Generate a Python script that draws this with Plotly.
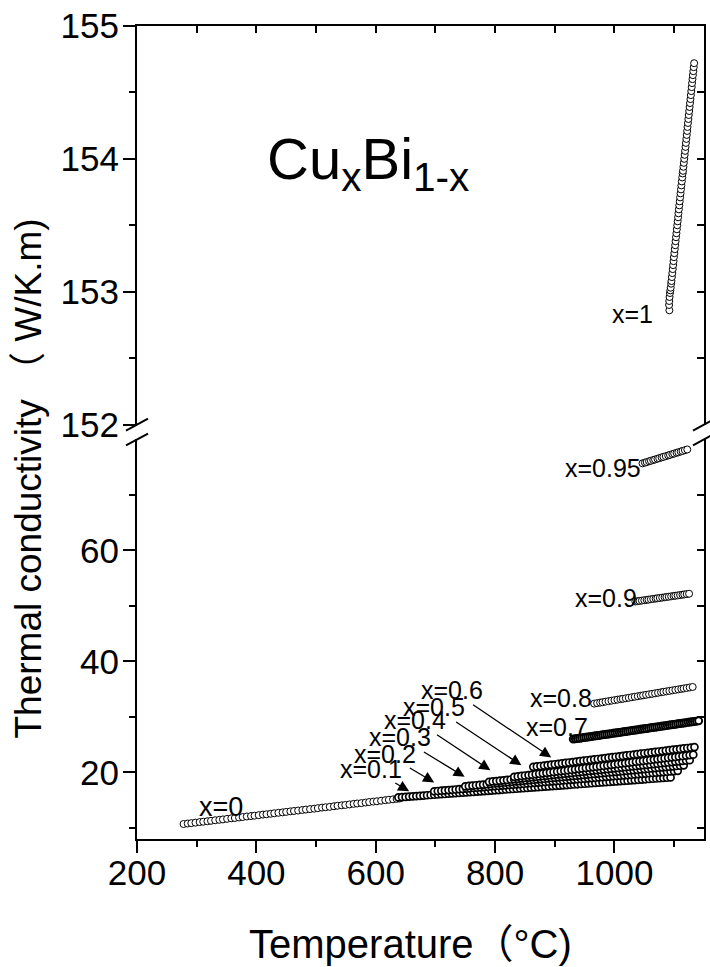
import plotly.graph_objects as go

# ---------------- data ----------------
T_x0 = [278, 285, 291, 298, 305, 311, 318, 324, 331, 338, 344, 351, 358, 364, 371, 377, 384, 391, 397, 404,
        411, 417, 424, 430, 437, 444, 450, 457, 463, 470, 477, 483, 490, 497, 503, 510, 516, 523, 530, 536,
        543, 549, 556, 563, 569, 576, 583, 589, 596, 602, 609, 616, 622, 629, 635, 640]
K_x0 = [10.70, 10.79, 10.86, 10.95, 11.05, 11.12, 11.20, 11.28, 11.38, 11.46, 11.53, 11.63, 11.73, 11.79, 11.87, 11.96, 12.06, 12.14, 12.20, 12.30,
        12.40, 12.46, 12.55, 12.64, 12.72, 12.80, 12.88, 12.98, 13.05, 13.13, 13.23, 13.31, 13.39, 13.47, 13.56, 13.66, 13.72, 13.80, 13.90, 13.99,
        14.07, 14.13, 14.23, 14.33, 14.40, 14.47, 14.57, 14.66, 14.74, 14.80, 14.90, 15.00, 15.07, 15.15, 15.23, 15.30]

T_x01 = [638, 644, 650, 656, 662, 668, 674, 680, 686, 692, 698, 704, 710, 716, 722, 728, 734, 740, 746, 752,
         758, 764, 770, 776, 782, 788, 794, 800, 806, 812, 818, 824, 830, 836, 842, 848, 854, 860, 866, 872,
         878, 884, 890, 896, 902, 908, 914, 920, 926, 932, 938, 944, 950, 956, 962, 968, 974, 980, 986, 992,
         998, 1004, 1010, 1016, 1022, 1028, 1034, 1040, 1046, 1052, 1058, 1064, 1070, 1076, 1082, 1088, 1094]
K_x01 = [15.50, 15.55, 15.59, 15.64, 15.69, 15.74, 15.78, 15.83, 15.88, 15.93, 15.97, 16.02, 16.07, 16.11, 16.16, 16.21, 16.26, 16.30, 16.35, 16.40,
         16.45, 16.49, 16.54, 16.59, 16.63, 16.68, 16.73, 16.78, 16.82, 16.87, 16.92, 16.97, 17.01, 17.06, 17.11, 17.15, 17.20, 17.25, 17.30, 17.34,
         17.39, 17.44, 17.48, 17.53, 17.58, 17.63, 17.67, 17.72, 17.77, 17.82, 17.86, 17.91, 17.96, 18.00, 18.05, 18.10, 18.15, 18.19, 18.24, 18.29,
         18.34, 18.38, 18.43, 18.48, 18.52, 18.57, 18.62, 18.67, 18.71, 18.76, 18.81, 18.86, 18.90, 18.95, 19.00, 19.04, 19.09]

T_x02 = [698, 704, 710, 716, 722, 728, 734, 740, 746, 752, 758, 764, 770, 776, 782, 788, 794, 800, 806, 812,
         818, 824, 830, 836, 842, 848, 854, 860, 866, 872, 878, 884, 890, 896, 902, 908, 914, 920, 926, 932,
         938, 944, 950, 956, 962, 968, 974, 980, 986, 992, 998, 1004, 1010, 1016, 1022, 1028, 1034, 1040, 1046, 1052,
         1058, 1064, 1070, 1076, 1082, 1088, 1094, 1100, 1106]
K_x02 = [16.60, 16.65, 16.71, 16.76, 16.82, 16.87, 16.92, 16.98, 17.03, 17.09, 17.14, 17.20, 17.25, 17.30, 17.36, 17.41, 17.47, 17.52, 17.57, 17.63,
         17.68, 17.74, 17.79, 17.85, 17.90, 17.95, 18.01, 18.06, 18.12, 18.17, 18.22, 18.28, 18.33, 18.39, 18.44, 18.49, 18.55, 18.60, 18.66, 18.71,
         18.77, 18.82, 18.87, 18.93, 18.98, 19.04, 19.09, 19.14, 19.20, 19.25, 19.31, 19.36, 19.42, 19.47, 19.52, 19.58, 19.63, 19.69, 19.74, 19.79,
         19.85, 19.90, 19.96, 20.01, 20.06, 20.12, 20.17, 20.23, 20.28]

T_x03 = [750, 756, 762, 768, 774, 780, 786, 792, 798, 804, 810, 816, 822, 828, 834, 840, 846, 852, 858, 864,
         870, 876, 882, 888, 894, 900, 906, 912, 918, 924, 930, 936, 942, 948, 954, 960, 966, 972, 978, 984,
         990, 996, 1002, 1008, 1014, 1020, 1026, 1032, 1038, 1044, 1050, 1056, 1062, 1068, 1074, 1080, 1086, 1092, 1098, 1104,
         1110, 1116]
K_x03 = [17.50, 17.56, 17.62, 17.69, 17.75, 17.81, 17.87, 17.93, 18.00, 18.06, 18.12, 18.18, 18.24, 18.31, 18.37, 18.43, 18.49, 18.55, 18.62, 18.68,
         18.74, 18.80, 18.86, 18.93, 18.99, 19.05, 19.11, 19.17, 19.23, 19.30, 19.36, 19.42, 19.48, 19.54, 19.61, 19.67, 19.73, 19.79, 19.85, 19.92,
         19.98, 20.04, 20.10, 20.16, 20.23, 20.29, 20.35, 20.41, 20.47, 20.54, 20.60, 20.66, 20.72, 20.78, 20.85, 20.91, 20.97, 21.03, 21.09, 21.16,
         21.22, 21.28]

T_x04 = [790, 796, 802, 808, 814, 820, 826, 832, 838, 844, 850, 856, 862, 868, 874, 880, 886, 892, 898, 904,
         910, 916, 922, 928, 934, 940, 946, 952, 958, 964, 970, 976, 982, 988, 994, 1000, 1006, 1012, 1018, 1024,
         1030, 1036, 1042, 1048, 1054, 1060, 1066, 1072, 1078, 1084, 1090, 1096, 1102, 1108, 1114, 1120, 1126]
K_x04 = [18.30, 18.37, 18.44, 18.51, 18.58, 18.65, 18.72, 18.79, 18.86, 18.93, 19.00, 19.07, 19.14, 19.21, 19.28, 19.35, 19.42, 19.49, 19.56, 19.63,
         19.70, 19.77, 19.84, 19.91, 19.98, 20.05, 20.12, 20.19, 20.26, 20.33, 20.40, 20.47, 20.54, 20.61, 20.67, 20.74, 20.81, 20.88, 20.95, 21.02,
         21.09, 21.16, 21.23, 21.30, 21.37, 21.44, 21.51, 21.58, 21.65, 21.72, 21.79, 21.86, 21.93, 22.00, 22.07, 22.14, 22.21]

T_x05 = [832, 838, 844, 850, 856, 862, 868, 874, 880, 886, 892, 898, 904, 910, 916, 922, 928, 934, 940, 946,
         952, 958, 964, 970, 976, 982, 988, 994, 1000, 1006, 1012, 1018, 1024, 1030, 1036, 1042, 1048, 1054, 1060, 1066,
         1072, 1078, 1084, 1090, 1096, 1102, 1108, 1114, 1120, 1126, 1132]
K_x05 = [19.20, 19.28, 19.36, 19.44, 19.52, 19.60, 19.68, 19.76, 19.84, 19.92, 20.00, 20.08, 20.16, 20.24, 20.32, 20.40, 20.48, 20.56, 20.64, 20.72,
         20.80, 20.88, 20.96, 21.04, 21.12, 21.20, 21.28, 21.36, 21.44, 21.52, 21.60, 21.68, 21.76, 21.84, 21.92, 22.00, 22.08, 22.16, 22.24, 22.32,
         22.40, 22.48, 22.56, 22.64, 22.72, 22.80, 22.88, 22.96, 23.04, 23.12, 23.20]

T_x06 = [864, 870, 876, 882, 888, 894, 900, 906, 912, 918, 924, 930, 936, 942, 948, 954, 960, 966, 972, 978,
         984, 990, 996, 1002, 1008, 1014, 1020, 1026, 1032, 1038, 1044, 1050, 1056, 1062, 1068, 1074, 1080, 1086, 1092, 1098,
         1104, 1110, 1116, 1122, 1128, 1134]
K_x06 = [21.00, 21.08, 21.16, 21.24, 21.32, 21.40, 21.47, 21.55, 21.63, 21.71, 21.79, 21.87, 21.95, 22.03, 22.11, 22.19, 22.27, 22.35, 22.42, 22.50,
         22.58, 22.66, 22.74, 22.82, 22.90, 22.98, 23.06, 23.14, 23.22, 23.29, 23.37, 23.45, 23.53, 23.61, 23.69, 23.77, 23.85, 23.93, 24.01, 24.09,
         24.16, 24.24, 24.32, 24.40, 24.48, 24.56]

T_x07 = [931, 934.5, 938, 941.5, 945, 948.5, 952, 955.5, 959, 962.5, 966, 969.5, 973, 976.5, 980, 983.5, 987, 990.5, 994, 997.5,
         1001, 1004.5, 1008, 1011.5, 1015, 1018.5, 1022, 1025.5, 1029, 1032.5, 1036, 1039.5, 1043, 1046.5, 1050, 1053.5, 1057, 1060.5, 1064, 1067.5,
         1071, 1074.5, 1078, 1081.5, 1085, 1088.5, 1092, 1095.5, 1099, 1102.5, 1106, 1109.5, 1113, 1116.5, 1120, 1123.5, 1127, 1130.5, 1134, 1137.5, 1141]
K_x07 = [26.00, 26.05, 26.11, 26.16, 26.22, 26.27, 26.33, 26.38, 26.44, 26.49, 26.55, 26.60, 26.66, 26.71, 26.77, 26.82, 26.88, 26.93, 26.99, 27.04,
         27.10, 27.15, 27.21, 27.26, 27.32, 27.37, 27.43, 27.48, 27.54, 27.59, 27.65, 27.70, 27.76, 27.81, 27.87, 27.92, 27.98, 28.03, 28.09, 28.14,
         28.20, 28.25, 28.31, 28.36, 28.42, 28.47, 28.53, 28.58, 28.64, 28.69, 28.75, 28.80, 28.86, 28.91, 28.97, 29.02, 29.08, 29.13, 29.19, 29.24, 29.30]

T_x08 = [966, 971, 976, 980, 985, 990, 995, 1000, 1005, 1010, 1014, 1019, 1024, 1029, 1034, 1039, 1044, 1048, 1053, 1058,
         1063, 1068, 1073, 1078, 1082, 1087, 1092, 1097, 1102, 1107, 1112, 1116, 1121, 1126, 1131]
K_x08 = [32.40, 32.49, 32.58, 32.65, 32.75, 32.84, 32.93, 33.02, 33.11, 33.20, 33.27, 33.36, 33.45, 33.55, 33.64, 33.73, 33.82, 33.89, 33.98, 34.07,
         34.16, 34.25, 34.35, 34.44, 34.51, 34.60, 34.69, 34.78, 34.87, 34.96, 35.05, 35.13, 35.22, 35.31, 35.40]

T_x09 = [1035, 1039, 1042, 1046, 1050, 1054, 1057, 1061, 1065, 1069, 1072, 1076, 1080, 1084, 1087, 1091, 1095, 1099, 1102, 1106,
         1110, 1114, 1117, 1121, 1125]
K_x09 = [50.80, 50.86, 50.91, 50.97, 51.03, 51.10, 51.14, 51.20, 51.27, 51.33, 51.38, 51.44, 51.50, 51.56, 51.61, 51.67, 51.73, 51.80, 51.84, 51.90,
         51.97, 52.03, 52.08, 52.14, 52.20]

T_x095 = [1047, 1051, 1054, 1058, 1061, 1065, 1068, 1072, 1075, 1079, 1082, 1086, 1090, 1093, 1097, 1100, 1104, 1107, 1111, 1114, 1118, 1122]
K_x095 = [75.70, 75.83, 75.93, 76.07, 76.17, 76.30, 76.40, 76.53, 76.63, 76.77, 76.87, 77.00, 77.13, 77.23, 77.37, 77.47, 77.60, 77.70, 77.83, 77.93, 78.07, 78.20]

T_x1 = [1092.0, 1091.5, 1091.8, 1092.3, 1093.0, 1093.6, 1094.2, 1095.0,
        1095.5, 1096.2, 1096.9, 1097.6, 1098.3, 1099.0, 1099.6, 1100.3, 1101.0, 1101.7, 1102.4, 1103.1, 1103.8, 1104.5, 1105.2, 1105.9,
        1106.6, 1107.2, 1107.9, 1108.6, 1109.3, 1110.0, 1110.7, 1111.4, 1112.1, 1112.8, 1113.5, 1114.2, 1114.8, 1115.5, 1116.2, 1116.9,
        1117.6, 1118.3, 1119.0, 1119.7, 1120.4, 1121.1, 1121.8, 1122.4, 1123.1, 1123.8, 1124.5, 1125.2, 1125.9, 1126.6, 1127.3, 1128.0,
        1128.7, 1129.4, 1130.0, 1130.7, 1131.4, 1132.1, 1132.8, 1133.5]
K_x1 = [152.86, 152.90, 152.93, 152.96, 152.99, 153.01, 153.03, 153.06,
        153.08, 153.11, 153.14, 153.17, 153.20, 153.23, 153.26, 153.29, 153.32, 153.35, 153.38, 153.41, 153.44, 153.47, 153.50, 153.53,
        153.56, 153.59, 153.62, 153.65, 153.68, 153.71, 153.74, 153.77, 153.80, 153.83, 153.86, 153.89, 153.91, 153.94, 153.97, 154.00,
        154.03, 154.06, 154.09, 154.12, 154.15, 154.18, 154.21, 154.24, 154.27, 154.30, 154.33, 154.36, 154.39, 154.42, 154.45, 154.48,
        154.51, 154.54, 154.57, 154.60, 154.63, 154.66, 154.69, 154.72]

LOWER_SERIES = [
    ("x=0", T_x0, K_x0), ("x=0.1", T_x01, K_x01), ("x=0.2", T_x02, K_x02), ("x=0.3", T_x03, K_x03),
    ("x=0.4", T_x04, K_x04), ("x=0.5", T_x05, K_x05), ("x=0.6", T_x06, K_x06), ("x=0.7", T_x07, K_x07),
    ("x=0.8", T_x08, K_x08), ("x=0.9", T_x09, K_x09), ("x=0.95", T_x095, K_x095),
]
DENSE = {"x=0.1", "x=0.2", "x=0.3", "x=0.4", "x=0.5", "x=0.6", "x=0.7"}

# label text centres and arrow tips (data coordinates)
ARROW_LABELS = ["x=0.1", "x=0.2", "x=0.3", "x=0.4", "x=0.5", "x=0.6"]
ARROW_TEXT_T = [592, 616, 641, 666, 698, 727]
ARROW_TEXT_K = [20.7, 23.4, 26.3, 29.4, 31.7, 34.8]
ARROW_TIP_T = [656, 698, 749, 792, 844, 894]
ARROW_TIP_K = [16.6, 18.2, 19.2, 20.4, 21.3, 22.7]

PLAIN_LABELS = ["x=0.7", "x=0.8", "x=0.9", "x=0.95"]
PLAIN_T = [903, 911, 985, 980]
PLAIN_K = [28.1, 33.5, 51.4, 74.8]

X_RANGE = [200, 1150]
X_MAJOR = [200, 400, 600, 800, 1000]
X_MINOR = [300, 500, 700, 900, 1100]
X_TOP = [300, 400, 500, 600, 700, 800, 900, 1000, 1100]
Y_LOW_RANGE = [8, 80]
Y_LOW_MAJOR = [20, 40, 60]
Y_LOW_MINOR = [10, 30, 50, 70]
Y_LOW_RIGHT = [10, 20, 30, 40, 50, 60, 70]
Y_UP_RANGE = [152, 155]
Y_UP_MAJOR = [152, 153, 154, 155]
Y_UP_MINOR = [152.5, 153.5, 154.5]
Y_UP_RIGHT = [152.5, 153, 153.5, 154, 154.5]

FONT = "Liberation Sans, Arial, Noto Sans CJK SC, sans-serif"
W, H = 710, 967
ML, MR, MT, MB = 137, 6, 23, 128
LOW_DOM = [0, 0.4914]
UP_DOM = [0.5098, 1]

marker = dict(symbol="circle", size=7, color="white", line=dict(color="black", width=1))

fig = go.Figure()
for name, t, k in LOWER_SERIES:
    m = dict(marker)
    if name == "x=0.7":
        m = dict(symbol="circle", size=7, color="white", line=dict(color="black", width=2))
    elif name in DENSE:
        m = dict(symbol="circle", size=7, color="white", line=dict(color="black", width=1.7))
    fig.add_trace(go.Scatter(x=t, y=k, mode="markers", marker=m, name=name,
                             xaxis="x", yaxis="y", showlegend=False))
fig.add_trace(go.Scatter(x=T_x1, y=K_x1, mode="markers", marker=marker, name="x=1",
                         xaxis="x", yaxis="y2", showlegend=False))
# invisible anchors so the mirror axes are drawn
for xa, ya, yv in [("x2", "y2", Y_UP_RANGE[0]), ("x", "y3", Y_LOW_RANGE[0]), ("x", "y4", Y_UP_RANGE[0])]:
    fig.add_trace(go.Scatter(x=[X_RANGE[0]], y=[yv], xaxis=xa, yaxis=ya, mode="markers",
                             marker=dict(opacity=0), hoverinfo="skip", showlegend=False))

tickfont = dict(family=FONT, size=35, color="black")
common = dict(showgrid=False, zeroline=False, showline=True, linecolor="black", linewidth=2,
              tickcolor="black", tickwidth=2)

fig.update_layout(
    width=W, height=H, margin=dict(l=ML, r=MR, t=MT, b=MB),
    plot_bgcolor="white", paper_bgcolor="white",
    xaxis=dict(domain=[0, 1], range=X_RANGE, anchor="y", tickmode="array", tickvals=X_MAJOR,
               ticks="outside", ticklen=12, tickfont=tickfont, ticklabelstandoff=-10,
               minor=dict(tickmode="array", tickvals=X_MINOR, ticks="outside", ticklen=6,
                          tickwidth=2, tickcolor="black"), **common),
    xaxis2=dict(overlaying="x", side="top", anchor="y2", range=X_RANGE, tickmode="array", tickvals=X_TOP,
                ticks="inside", ticklen=7, showticklabels=False, **common),
    yaxis=dict(domain=LOW_DOM, range=Y_LOW_RANGE, anchor="x", tickmode="array", tickvals=Y_LOW_MAJOR,
               ticks="outside", ticklen=12, tickfont=tickfont, ticklabelstandoff=-3,
               minor=dict(tickmode="array", tickvals=Y_LOW_MINOR, ticks="outside", ticklen=6,
                          tickwidth=2, tickcolor="black"), **common),
    yaxis2=dict(domain=UP_DOM, range=Y_UP_RANGE, anchor="x", tickmode="array", tickvals=Y_UP_MAJOR,
                ticks="outside", ticklen=12, tickfont=tickfont, ticklabelstandoff=-3,
                minor=dict(tickmode="array", tickvals=Y_UP_MINOR, ticks="outside", ticklen=6,
                           tickwidth=2, tickcolor="black"), **common),
    yaxis3=dict(overlaying="y", side="right", anchor="x", range=Y_LOW_RANGE, tickmode="array",
                tickvals=Y_LOW_RIGHT, ticks="inside", ticklen=7, showticklabels=False, **common),
    yaxis4=dict(overlaying="y2", side="right", anchor="x", range=Y_UP_RANGE, tickmode="array",
                tickvals=Y_UP_RIGHT, ticks="inside", ticklen=7, showticklabels=False, **common),
)

annotations = []
lab_font = dict(family=FONT, size=25, color="black")
for txt, tx, ty, hx, hy in zip(ARROW_LABELS, ARROW_TEXT_T, ARROW_TEXT_K, ARROW_TIP_T, ARROW_TIP_K):
    annotations.append(dict(x=hx, y=hy, xref="x", yref="y", ax=tx, ay=ty, axref="x", ayref="y",
                            text=txt, showarrow=True, arrowhead=2, arrowsize=1.7, arrowwidth=1.3,
                            arrowcolor="black", standoff=0, startstandoff=0, font=lab_font,
                            borderpad=0))
for txt, tx, ty in zip(PLAIN_LABELS, PLAIN_T, PLAIN_K):
    annotations.append(dict(x=tx, y=ty, xref="x", yref="y", text=txt, showarrow=False, font=lab_font))
annotations.append(dict(x=341, y=13.7, xref="x", yref="y", text="x=0", showarrow=False,
                        font=dict(family=FONT, size=27, color="black")))
annotations.append(dict(x=1030, y=152.83, xref="x", yref="y2", text="x=1", showarrow=False, font=lab_font))
annotations.append(dict(x=0.2257, y=0.831, xref="paper", yref="paper", xanchor="left", yanchor="middle",
                        text="Cu<sub>x</sub>Bi<sub>1-x</sub>", showarrow=False,
                        font=dict(family=FONT, size=58, color="black")))
annotations.append(dict(x=0.483, y=-0.1287, xref="paper", yref="paper", xanchor="center", yanchor="middle",
                        text="Temperature（°C)", showarrow=False,
                        font=dict(family=FONT, size=40, color="black")))
annotations.append(dict(x=-0.192, y=0.4436, xref="paper", yref="paper", xanchor="center", yanchor="middle",
                        text="Thermal conductivity （ W/K.m)", textangle=-90, showarrow=False,
                        font=dict(family=FONT, size=37, color="black")))
fig.update_layout(annotations=annotations)

# axis-break marks
pw, ph = W - ML - MR, H - MT - MB
dx, dy = 11 / pw, 6 / ph
shapes = []
for xb in (0, 1):
    for yb in (LOW_DOM[1], UP_DOM[0]):
        shapes.append(dict(type="line", xref="paper", yref="paper", x0=xb - dx, y0=yb - dy,
                           x1=xb + dx, y1=yb + dy, line=dict(color="black", width=2)))
fig.update_layout(shapes=shapes)

fig.write_html("out.html", config={"displayModeBar": False},
               post_script="document.body.style.margin='0';")
